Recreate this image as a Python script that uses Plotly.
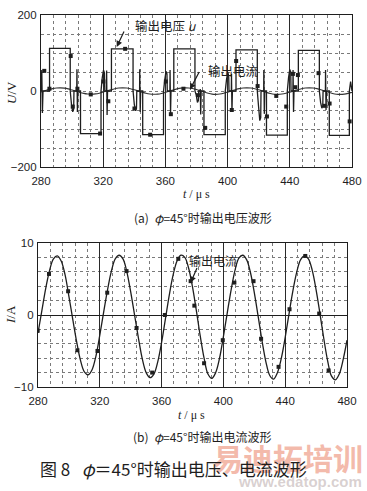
import plotly.graph_objects as go

W, H = 367, 491

# ---------------- data ----------------
# output voltage u (V) vs time (us) (a)
volt_t = [280.0, 280.5, 280.9, 281.3,
          285.5, 285.5, 298.8, 298.8, 299.6, 300.4, 301.0, 301.2, 303.0, 303.1, 303.4, 303.7,
          305.4, 305.4, 318.6, 318.6, 319.4, 320.2, 320.8, 321.0, 322.1, 322.2, 322.5, 322.8,
          325.3, 325.3, 339.2, 339.2, 340.0, 340.8, 341.4, 341.6, 343.4, 343.5, 343.8, 344.1,
          345.4, 345.4, 358.8, 358.8, 359.6, 360.4, 361.0, 361.2, 362.9, 363.0, 363.3, 363.6,
          365.4, 365.4, 379.0, 379.0, 379.8, 380.6, 381.2, 381.4, 382.3, 382.4, 382.7, 383.0,
          384.8, 384.8, 398.5, 398.5, 399.3, 400.1, 400.7, 400.9, 402.4, 402.5, 402.8, 403.1,
          405.4, 405.4, 419.1, 419.1, 419.9, 420.7, 421.3, 421.5, 423.2, 423.3, 423.6, 423.9,
          425.0, 425.0, 438.4, 438.4, 439.2, 440.0, 440.6, 440.8, 442.0, 442.1, 442.4, 442.7,
          445.5, 445.5, 459.0, 459.0, 459.8, 460.6, 461.2, 461.4, 462.9, 463.0, 463.3, 463.6,
          465.4, 465.4, 478.3, 478.3, 479.1, 480.0]
volt_v = [0, 55, -58, 0,
          0, 112, 112, 0, -35, -55, -48, 0, 0, 57, -55, 0,
          0, -112, -112, 0, 35, 55, 48, 0, 0, 54, -63, 0,
          0, 111, 111, 0, -35, -52, -46, 0, 0, 57, -55, 0,
          0, -115, -115, 0, 30, 52, 45, 0, 0, 55, -62, 0,
          0, 111, 111, 0, -10, -30, -25, 0, 0, 5, -62, 0,
          0, -115, -115, 0, 30, 50, 40, 0, 0, 45, -55, 0,
          0, 108, 108, 0, -40, -78, -70, 0, 0, 55, -60, 0,
          0, -116, -116, 0, 35, 57, 50, 0, 0, 55, -55, 0,
          0, 107, 107, 0, -30, -45, -40, 0, 0, 55, -50, 0,
          0, -117, -117, 0, 25, 0]

# voltage-trace sample markers
vmark_t = [282.1, 285.4, 299.1, 300.4, 303.4, 312.0, 318.0, 320.1, 323.3, 334.1, 340.1,
           350.2, 360.3, 363.5, 371.6, 380.9, 385.6, 402.7, 405.5, 419.3, 425.3, 431.3,
           437.7, 442.0, 443.5, 445.2, 458.5, 462.4, 465.6, 478.5]
vmark_v = [53, 6, 92, -41, 6, -9, -112, 25, -27, 111, -46,
           -115, 25, -61, 6, -11, -97, -50, 79, 13, -67, -13,
           -41, 45, 10, 42, 47, -39, -33, -80]

cur_t = [280 + 2.5 * k for k in range(81)]
cur_v = [-2.5, 0.6, 3.7, 6.2, 7.8, 8.2, 7.5, 5.6, 2.6, -0.6,
         -3.7, -6.3, -7.9, -8.3, -7.6, -5.7, -2.8, 0.4, 3.5, 6.1,
         7.8, 8.3, 7.8, 6.0, 3.2, 0.0, -3.2, -6.1, -8.0, -8.7,
         -8.2, -6.5, -3.8, -0.5, 2.8, 5.6, 7.5, 8.3, 8.0, 6.5,
         3.9, 0.6, -2.9, -6.0, -8.2, -8.8, -8.0, -6.0, -3.0, 0.3,
         3.5, 6.2, 7.9, 8.3, 7.7, 5.9, 3.1, -0.2, -3.6, -6.5,
         -8.4, -8.9, -8.0, -6.0, -3.1, 0.2, 3.4, 6.0, 7.7, 8.2,
         7.8, 6.2, 3.5, 0.2, -3.3, -6.4, -8.5, -9.0, -8.2, -6.2,
         -3.5]

# current-trace sample markers
imark_t = [279.8, 287.1, 299.5, 305.5, 318.5, 324.8, 337.3, 343.8, 353.9, 362.1, 370.8,
           378.8, 381.2, 387.5, 399.6, 407.1, 419.5, 424.4, 435.7, 442.8, 453.0, 462.0, 468.1]
imark_v = [-2.2, 5.7, 3.3, -4.9, -5.0, 3.1, 6.1, -1.8, -8.0, 0.0, 7.8,
           4.7, 1.3, -6.7, -3.5, 4.5, 4.7, -3.3, -7.2, 0.8, 8.2, 0.2, -7.7]

x_ticks = [280, 320, 360, 400, 440, 480]
u_ticks = [-200, 0, 200]
i_ticks = [-10, 0, 10]

# ---------------- figure ----------------
INK = "#1e1e1e"
fig = go.Figure()

fig.add_trace(go.Scatter(x=cur_t, y=cur_v, mode="lines", line=dict(color="#333", width=1.1, shape="spline"),
                         xaxis="x", yaxis="y", hoverinfo="skip"))
fig.add_trace(go.Scatter(x=volt_t, y=volt_v, mode="lines", line=dict(color=INK, width=1.3),
                         xaxis="x", yaxis="y"))
fig.add_trace(go.Scatter(x=vmark_t, y=vmark_v, mode="markers",
                         marker=dict(symbol="square", size=4, color=INK), xaxis="x", yaxis="y"))

fig.add_trace(go.Scatter(x=cur_t, y=cur_v, mode="lines", line=dict(color=INK, width=1.3, shape="spline"),
                         xaxis="x2", yaxis="y2"))
fig.add_trace(go.Scatter(x=imark_t, y=imark_v, mode="markers",
                         marker=dict(symbol="square", size=4, color=INK), xaxis="x2", yaxis="y2"))


def px(x):
    return x / W


def py(y):
    return 1 - y / H


tickfont = dict(family="Liberation Sans, Arial, sans-serif", size=11.5, color=INK)
common_x = dict(range=[280, 480], tickvals=x_ticks, showgrid=True, gridcolor="#2a2a2a", gridwidth=1,
                minor=dict(dtick=8, tick0=280, showgrid=True, griddash="dot", gridcolor="#7a7a7a", gridwidth=1),
                showline=True, linecolor=INK, linewidth=1.2, mirror=True, zeroline=False, automargin=False,
                ticks="outside", ticklen=3, tickcolor="rgba(0,0,0,0)", tickfont=tickfont, fixedrange=True)

fig.update_layout(
    template="none",
    width=W, height=H, margin=dict(l=0, r=0, t=0, b=0, pad=0), autosize=False,
    paper_bgcolor="white", plot_bgcolor="white", showlegend=False,
    xaxis=dict(domain=[px(41), px(352)], anchor="y", **common_x),
    yaxis=dict(domain=[py(167), py(15)], anchor="x", range=[-200, 200], tickvals=u_ticks,
               showgrid=False, zeroline=False, automargin=False,
               minor=dict(dtick=50, tick0=0, showgrid=True, griddash="dot", gridcolor="#7a7a7a", gridwidth=1),
               showline=True, linecolor=INK, linewidth=1.2, mirror=True,
               ticks="outside", ticklen=1, tickcolor="rgba(0,0,0,0)", tickfont=tickfont),
    xaxis2=dict(domain=[px(38), px(347)], anchor="y2", **common_x),
    yaxis2=dict(domain=[py(387), py(243)], anchor="x2", range=[-10, 10], tickvals=i_ticks,
                showgrid=False, zeroline=True, zerolinecolor=INK, zerolinewidth=1.2, automargin=False,
                minor=dict(dtick=2, tick0=0, showgrid=True, griddash="dot", gridcolor="#7a7a7a", gridwidth=1),
                showline=True, linecolor=INK, linewidth=1.2, mirror=True,
                ticks="outside", ticklen=1, tickcolor="rgba(0,0,0,0)", tickfont=tickfont),
)

serif = "Liberation Serif, serif"
cjk = "Noto Sans CJK SC"


def label(x, y, text, font, xanchor="center", angle=0):
    return dict(x=px(x), y=py(y), xref="paper", yref="paper", showarrow=False, text=text,
                xanchor=xanchor, yanchor="middle", textangle=angle, font=font)


ann = [
    # watermark (drawn first, below caption)
    label(288, 457, "<b>易迪拓培训</b>", dict(family=cjk, size=30, color="rgba(236,140,115,0.6)")),
    label(300, 481, "<b>www.edatop.com</b>", dict(family="Liberation Sans", size=15, color="rgba(170,150,150,0.45)")),
    # axis titles
    label(12, 92, "<i>U</i>/V", dict(family=serif, size=13, color=INK), angle=-90),
    label(10, 315, "<i>I</i>/A", dict(family=serif, size=13, color=INK), angle=-90),
    label(196, 194, "<i>t</i> / μ s", dict(family=serif, size=12, color=INK)),
    label(191, 415, "<i>t</i> / μ s", dict(family=serif, size=12, color=INK)),
    # sub-captions
    label(203, 217, "(a)  <i>φ</i>=45°时输出电压波形", dict(family=cjk, size=12, color=INK)),
    label(202, 436, "(b)  <i>φ</i>=45°时输出电流波形", dict(family=cjk, size=12, color=INK)),
    label(38, 468, "图 8   <i>φ</i>＝45°时输出电压、电流波形", dict(family=cjk, size=17, color=INK), xanchor="left"),
    # in-plot labels
    label(133, 25, "输出电压 <i>u</i>", dict(family=cjk, size=12.5, color=INK), xanchor="left"),
    label(206, 70, "输出电流", dict(family=cjk, size=12.5, color=INK), xanchor="left"),
    label(187, 260, "输出电流", dict(family=cjk, size=12, color=INK), xanchor="left"),
]
# arrows
ann.append(dict(x=328.7, y=116, xref="x", yref="y", ax=8, ay=-17, text="", showarrow=True,
                arrowhead=2, arrowsize=1, arrowwidth=1.2, arrowcolor=INK))
ann.append(dict(x=375.8, y=4, xref="x", yref="y", ax=10, ay=-19, text="", showarrow=True,
                arrowhead=2, arrowsize=1, arrowwidth=1.2, arrowcolor=INK))
ann.append(dict(x=378.8, y=4.5, xref="x2", yref="y2", ax=7, ay=-16, text="", showarrow=True,
                arrowhead=2, arrowsize=1, arrowwidth=1.2, arrowcolor=INK))
fig.update_layout(annotations=ann)

fig.write_html("out.html")
